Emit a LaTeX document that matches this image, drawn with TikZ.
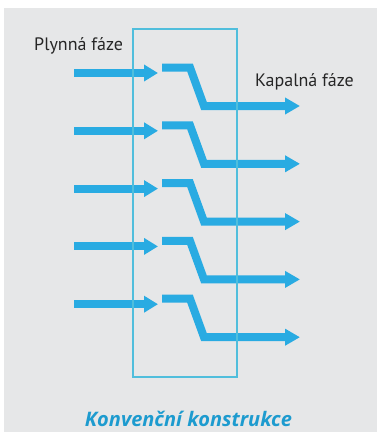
\documentclass[tikz,border=0pt]{standalone}
\usepackage{fontspec}
\setmainfont{PT Sans}
\newfontfamily\titlefont{Open Sans}
\usetikzlibrary{arrows.meta}
\definecolor{bg}{HTML}{E6E7E8}
\definecolor{flow}{HTML}{29ABE2}
\definecolor{boxcyan}{RGB}{80,190,220}
\definecolor{titlec}{HTML}{1D9BCF}
\tikzset{
  inflow/.style={draw=flow,line width=8pt,-{Triangle[length=14pt,width=16pt]}},
  zflow/.style={draw=flow,line width=8pt,line join=miter,-{Triangle[length=15pt,width=16pt]}},
  lbl/.style={inner sep=0pt,anchor=base west,font=\fontsize{18}{20}\selectfont,text=black!85},
  frame/.style={draw=boxcyan,line width=1.3pt},
}
\begin{document}
\begin{tikzpicture}[x=1pt,y=-1pt]
\useasboundingbox (0,0) rectangle (377,432);
\fill[bg] (4,8) rectangle (377,432);
\coordinate (boxtl) at (133,29);
\coordinate (boxbr) at (237,377);
\foreach \i in {0,...,4} {
  \coordinate (a\i) at (74,{73+57.8*\i});
  \coordinate (b\i) at (158,{73+57.8*\i});
  \coordinate (z\i) at (162,{67.5+57.8*\i});
  \coordinate (c\i) at (190,{67.5+57.8*\i});
  \coordinate (d\i) at (204,{106+57.8*\i});
  \coordinate (e\i) at (300,{106+57.8*\i});
  \draw[inflow] (a\i) -- (b\i);
  \draw[zflow] (z\i) -- (c\i) -- (d\i) -- (e\i);
}
\draw[frame] (boxtl) rectangle (boxbr);
\node[lbl] (plyn) at (34,50) {Plynná fáze};
\node[lbl] (kap) at (255,86) {Kapalná fáze};
\node[inner sep=0pt,anchor=base,font=\titlefont\fontsize{20}{23}\selectfont\bfseries\itshape,text=titlec] (title) at (188.5,426) {Konvenční konstrukce};
\end{tikzpicture}
\end{document}
